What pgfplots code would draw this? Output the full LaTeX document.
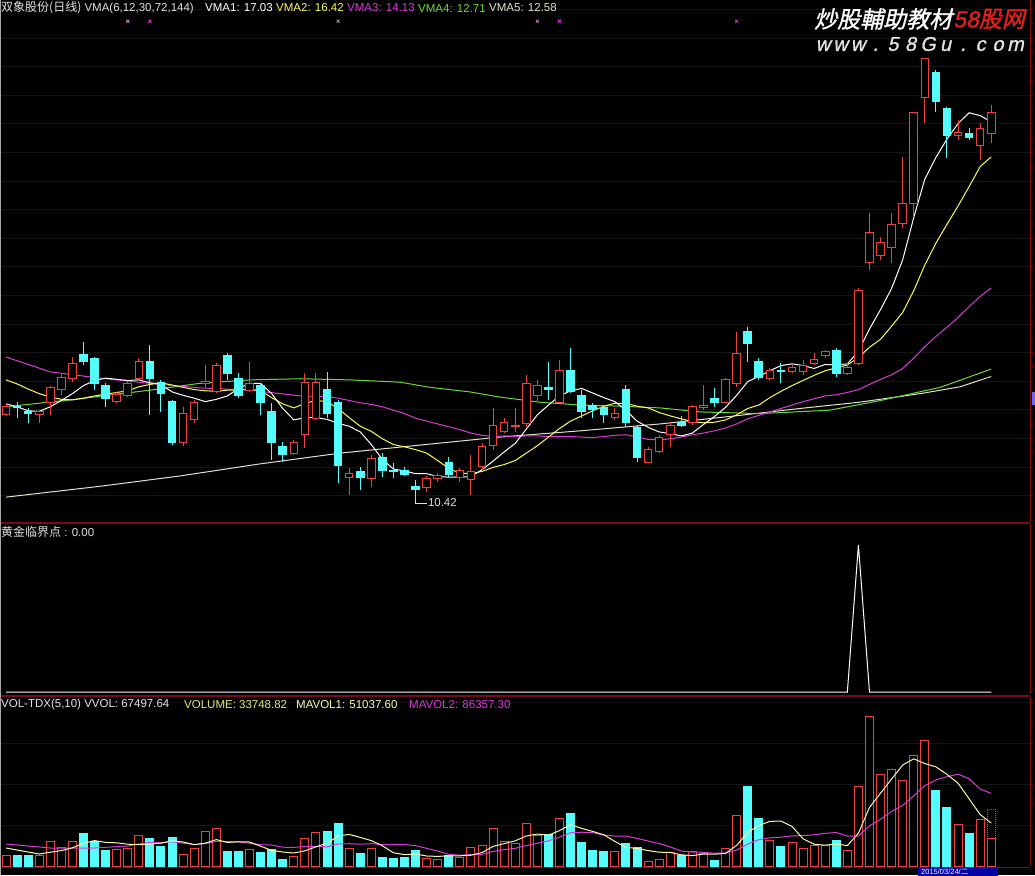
\documentclass[border=0pt]{standalone}
\usepackage{fontspec}
\usepackage{pgfplots}
\usepackage{pgfplotstable}
\pgfplotsset{compat=1.18}
\setmainfont{Liberation Sans}
\newfontfamily\cjk{Noto Sans CJK SC}
\newfontfamily\wmcjk[FakeSlant=0.22,FakeBold=1.2]{Noto Sans CJK SC}
\newfontfamily\wmlat[FakeSlant=0.22,FakeBold=1.2]{Liberation Sans}

\definecolor{upred}{RGB}{235,65,65}
\definecolor{dncyan}{RGB}{84,252,252}
\definecolor{maA}{RGB}{255,255,255}
\definecolor{maB}{RGB}{250,250,90}
\definecolor{maC}{RGB}{215,60,215}
\definecolor{maD}{RGB}{110,215,60}
\definecolor{maE}{RGB}{225,225,205}
\definecolor{axred}{RGB}{130,10,10}
\definecolor{sepred}{RGB}{120,10,30}
\definecolor{gridc}{RGB}{20,20,20}
\definecolor{vmaA}{RGB}{250,250,175}
\definecolor{lbl}{RGB}{225,225,225}
\definecolor{sigA}{RGB}{200,140,200}
\definecolor{volyel}{RGB}{225,230,120}
\definecolor{wmred}{RGB}{230,30,30}

\newcommand\tf{\fontsize{11.5}{14}\selectfont}

\pgfdeclareplotmark{candle}{%
  \pgfpathmoveto{\pgfqpoint{0pt}{0pt}}%
  \pgfpathlineto{\pgfpoint{0pt}{\candleH pt}}%
  \pgfusepathqstroke
  \pgfpathrectanglecorners{\pgfpoint{-3.8pt}{\candleB pt}}{\pgfpoint{3.8pt}{\candleT pt}}%
  \pgfusepathqfillstroke
}

% up (hollow red) candles
\pgfplotstableread{
i O H L C
0 11.91 12.12 11.89 12.05
3 11.92 11.99 11.76 11.96
4 12.12 12.41 11.91 12.39
5 12.36 12.64 12.25 12.57
6 12.55 12.92 12.48 12.80
10 12.15 12.31 12.12 12.27
11 12.25 12.50 12.22 12.46
12 12.55 12.90 12.52 12.85
16 11.43 12.05 11.36 11.94
17 11.82 12.17 11.76 12.13
18 12.45 12.78 12.38 12.50
19 12.31 12.81 12.29 12.78
22 12.34 12.83 12.31 12.46
26 11.24 11.47 11.21 11.43
27 11.56 12.64 11.33 12.48
28 11.85 12.64 11.82 12.48
31 10.82 10.98 10.51 10.89
33 10.80 11.21 10.65 11.15
38 10.63 10.84 10.56 10.80
39 10.80 10.89 10.73 10.84
41 10.82 10.98 10.73 10.93
42 10.77 11.21 10.51 10.91
43 11.00 11.41 10.94 11.35
44 11.38 12.03 11.29 11.73
45 11.61 11.85 11.59 11.78
46 11.70 12.03 11.61 11.73
47 11.76 12.60 11.70 12.46
48 12.25 12.52 12.13 12.43
50 12.13 12.87 12.12 12.69
55 11.87 12.03 11.82 11.94
58 11.08 11.35 11.07 11.31
59 11.26 11.56 11.24 11.52
60 11.56 11.78 11.35 11.73
62 11.77 12.08 11.73 12.06
63 12.03 12.43 11.99 12.08
65 12.13 12.55 12.12 12.52
66 12.46 13.36 12.39 12.99
69 12.55 12.73 12.52 12.69
71 12.66 12.78 12.64 12.73
72 12.66 12.87 12.60 12.78
73 12.81 12.99 12.78 12.88
74 12.95 13.04 12.90 13.01
76 12.64 12.81 12.60 12.74
77 12.81 14.12 12.78 14.09
78 14.58 15.44 14.44 15.09
79 14.70 15.02 14.61 14.93
80 14.84 15.44 14.56 15.23
81 15.26 16.42 15.17 15.61
82 15.61 17.20 15.37 17.20
83 17.45 18.15 17.01 18.13
86 16.80 17.06 16.71 16.85
88 16.61 17.01 16.36 16.91
89 16.83 17.32 16.66 17.20
}\upK

% down (cyan) candles
\pgfplotstableread{
i O H L C
1 12.06 12.13 11.85 12.03
2 11.97 12.03 11.76 11.94
7 12.97 13.18 12.78 12.85
8 12.90 12.92 12.34 12.46
9 12.43 12.46 12.05 12.20
13 12.85 13.13 11.91 12.55
14 12.48 12.52 11.96 12.29
15 12.15 12.17 11.38 11.43
20 12.95 12.99 12.52 12.64
21 12.55 12.64 12.20 12.25
23 12.43 12.46 11.91 12.12
24 11.96 12.12 11.12 11.43
25 11.36 11.43 11.08 11.21
29 12.36 12.66 11.85 11.94
30 12.13 12.17 10.72 11.03
32 10.91 11.00 10.59 10.82
34 11.17 11.24 10.82 10.94
35 10.94 11.07 10.80 10.91
36 10.93 11.00 10.84 10.87
37 10.65 10.77 10.42 10.61
40 11.08 11.17 10.82 10.86
49 12.39 12.83 12.17 12.36
51 12.69 13.08 12.29 12.31
52 12.25 12.34 11.85 11.96
53 12.08 12.12 11.85 12.01
54 12.03 12.03 11.76 11.91
56 12.36 12.43 11.70 11.78
57 11.68 11.73 11.08 11.17
61 11.77 11.89 11.70 11.73
64 12.19 12.38 12.05 12.13
67 13.36 13.44 12.83 13.16
68 12.85 12.90 12.52 12.57
70 12.69 12.81 12.46 12.66
75 13.04 13.08 12.57 12.64
84 17.90 17.94 17.20 17.38
85 17.27 17.29 16.40 16.80
87 16.83 16.92 16.71 16.76
}\dnK

% VMA1 (6) and VMA2 (12)
\pgfplotstableread{
i a b
0 12.10 12.52
1 12.05 12.45
2 11.98 12.36
3 11.97 12.28
4 12.05 12.22
5 12.16 12.18
6 12.28 12.17
7 12.42 12.20
8 12.51 12.24
9 12.55 12.27
10 12.53 12.30
11 12.51 12.33
12 12.52 12.40
13 12.47 12.44
14 12.44 12.47
15 12.31 12.43
16 12.25 12.39
17 12.20 12.35
18 12.14 12.33
19 12.18 12.32
20 12.24 12.34
21 12.37 12.34
22 12.46 12.36
23 12.46 12.33
24 12.28 12.21
25 12.02 12.10
26 11.82 12.03
27 11.86 12.11
28 11.86 12.16
29 11.83 12.14
30 11.76 12.02
31 11.71 11.86
32 11.61 11.71
33 11.39 11.62
34 11.13 11.49
35 10.96 11.39
36 10.93 11.35
37 10.88 11.30
38 10.88 11.24
39 10.83 11.11
40 10.82 10.97
41 10.82 10.89
42 10.83 10.88
43 10.95 10.92
44 11.10 10.99
45 11.26 11.04
46 11.41 11.11
47 11.66 11.24
48 11.91 11.37
49 12.08 11.52
50 12.24 11.67
51 12.33 11.80
52 12.37 11.89
53 12.29 11.98
54 12.21 12.06
55 12.14 12.11
56 11.99 12.11
57 11.80 12.06
58 11.69 12.03
59 11.61 11.95
60 11.58 11.89
61 11.54 11.84
62 11.59 11.79
63 11.74 11.77
64 11.88 11.78
65 12.04 11.82
66 12.25 11.91
67 12.49 12.02
68 12.58 12.08
69 12.68 12.21
70 12.77 12.32
71 12.80 12.42
72 12.77 12.51
73 12.72 12.60
74 12.79 12.68
75 12.78 12.73
76 12.80 12.78
77 13.02 12.91
78 13.41 13.09
79 13.75 13.23
80 14.12 13.46
81 14.62 13.70
82 15.36 14.08
83 16.03 14.53
84 16.41 14.91
85 16.73 15.24
86 17.00 15.56
87 17.19 15.90
88 17.14 16.25
89 17.03 16.42
}\maK

% volume (up = hollow red)
\pgfplotstableread{
i v
0 11
3 11
4 25
5 19
6 25
10 17
11 18
12 31
16 12
17 18
18 35
19 38
22 17
26 10
27 28
28 34
31 18
33 18
38 8
39 7
41 9
42 19
43 21
44 38
45 25
46 23
47 43
48 31
50 48
55 15
58 5
59 7
60 14
62 15
63 13
65 18
66 51
69 26
71 24
72 18
73 21
74 21
76 16
77 80
78 150
79 92
80 97
81 86
82 111
83 126
86 42
88 47
89 28
}\vUp

% volume (down = cyan)
\pgfplotstableread{
i v
1 11
2 11
7 33
8 25
9 16
13 28
14 20
15 29
20 15
21 15
23 14
24 17
25 7
29 35
30 43
32 13
34 9
35 8
36 9
37 16
40 11
49 32
51 53
52 24
53 16
54 15
56 23
57 19
61 11
64 6
67 80
68 48
70 20
75 26
84 76
85 59
87 33
}\vDn

% MAVOL1 (5) and MAVOL2 (10)
\pgfplotstableread{
i a b
0 18 22
1 16 21
2 14 20
3 12 19
4 13.8 18
5 15.4 18
6 18.2 18
7 22.6 18
8 25.4 18
9 23.6 18.7
10 23.2 19.3
11 21.8 20
12 21.4 22
13 22 23.7
14 22.8 23.2
15 25.2 24.2
16 24 22.9
17 21.4 21.4
18 22.8 22.4
19 26.4 24.6
20 23.6 24.4
21 24.2 24.1
22 24 22.7
23 19.8 21.3
24 15.6 21
25 14 18.8
26 13 18.6
27 15.2 19.6
28 19.2 19.5
29 22.8 19.2
30 30 22
31 31.6 22.3
32 28.6 21.9
33 25.4 22.3
34 20.2 21.5
35 13.2 21.6
36 11.4 21.5
37 12 20.3
38 10 17.7
39 9.6 14.9
40 10.2 11.7
41 10.2 10.8
42 10.8 11.4
43 13.4 11.7
44 19.6 14.6
45 22.4 16.3
46 25.2 17.7
47 30 20.4
48 32 22.7
49 30.8 25.2
50 35.4 28.9
51 41.4 33.3
52 37.6 33.8
53 34.6 33.3
54 31.2 31
55 24.6 30
56 18.6 30
57 17.6 27.6
58 15.4 25
59 13.8 22.5
60 13.6 19.1
61 11.2 14.9
62 10.4 14
63 12 13.7
64 11.8 12.8
65 12.6 13.1
66 20.6 15.9
67 33.6 22
68 40.6 26.3
69 44.6 28.2
70 45 28.8
71 39.6 30.1
72 27.2 30.4
73 21.8 31.2
74 20.8 32.7
75 22 33.5
76 20.4 30
77 32.8 30
78 58.6 40.2
79 72.8 46.8
80 87 54.5
81 101 60.7
82 107.2 70
83 102.4 80.5
84 99.2 86
85 91.6 89.3
86 82.8 91.9
87 67.2 87.2
88 51.4 76.9
89 42.9 72.6
}\vmaK

\pgfplotsset{
  tdx/.style={scale only axis, width=1030pt, xmin=-0.542, xmax=92.5,
    anchor=south west,
    axis x line=none, axis y line*=right,
    y axis line style={draw=axred, line width=0.8pt},
    yticklabels={}, tick align=outside,
    major tick length=3pt, minor tick length=3pt,
    tick style={draw=axred, line width=0.6pt},
    major grid style={draw=gridc, line width=0.6pt},
  },
}

\begin{document}
\begin{tikzpicture}[x=1pt,y=1pt]
\useasboundingbox (0,0) rectangle (1035,-875);
\fill[black] (0,0) rectangle (1035,-875);
\clip (0,0) rectangle (1035,-875);

% ---------------- price panel ----------------
\begin{axis}[tdx, at={(0pt,-522pt)}, height=522pt,
  ymin=10.0354, ymax=19.1615,
  ytick={10.5,11,...,19}, minor y tick num=1, ymajorgrids]
  % moving averages
  \addplot[maE, line width=1pt] coordinates {(0,10.47) (8.5,10.66) (15.7,10.84) (22.9,11.05) (30.2,11.24) (37.4,11.38) (44.6,11.52) (51.9,11.63) (59.1,11.75) (66.3,11.90) (71.7,12.02) (77.1,12.13) (82.6,12.28) (86.2,12.40) (89,12.58)};
  \addplot[maD, line width=1pt] coordinates {(0,12.05) (5.8,12.17) (13,12.34) (17.5,12.46) (22,12.52) (26.6,12.54) (31.1,12.52) (35.6,12.48) (38.3,12.39) (41.9,12.31) (44.6,12.22) (48.2,12.13) (51.9,12.08) (55.5,12.06) (59.1,12.03) (62.7,11.96) (68.1,11.93) (74.4,11.99) (79,12.16) (84.4,12.39) (89,12.71)};
  \addplot[maC, line width=1pt] coordinates {(0,12.92) (4,12.66) (8.5,12.55) (13,12.46) (17.5,12.38) (22,12.34) (26.6,12.24) (29,12.23) (30,12.20) (31,12.16) (32,12.12) (33,12.09) (34,12.05) (35,11.99) (36,11.93) (37,11.85) (38,11.80) (39,11.75) (40,11.70) (41,11.65) (42,11.59) (43,11.55) (44,11.53) (45,11.54) (46,11.53) (47,11.54) (48,11.54) (49,11.53) (50,11.53) (51,11.53) (52,11.52) (53,11.51) (54,11.53) (55,11.55) (56,11.56) (57,11.52) (58,11.48) (59,11.47) (60,11.49) (61,11.52) (62,11.56) (63,11.59) (64,11.63) (65,11.68) (66,11.75) (67,11.84) (68,11.90) (69,11.96) (70,12.02) (71,12.08) (72,12.14) (73,12.19) (74,12.24) (75,12.26) (76,12.30) (77,12.35) (78,12.44) (79,12.53) (80,12.61) (81,12.72) (82,12.90) (83,13.10) (84,13.28) (85,13.44) (86,13.61) (87,13.80) (88,13.98) (89,14.13)};
  \addplot[maB, line width=1pt] table[x=i, y=b] {\maK};
  \addplot[maA, line width=1pt] table[x=i, y=a] {\maK};
  % candles
  \addplot[only marks, mark=candle, line width=1pt,
    mark options={draw=upred, fill=black},
    visualization depends on={(\thisrow{H}-\thisrow{L})*57.2 \as \candleH},
    visualization depends on={(\thisrow{O}-\thisrow{L})*57.2 \as \candleB},
    visualization depends on={(\thisrow{C}-\thisrow{L})*57.2 \as \candleT}]
    table[x=i, y=L] {\upK};
  \addplot[only marks, mark=candle, line width=1pt,
    mark options={draw=dncyan, fill=dncyan},
    visualization depends on={(\thisrow{H}-\thisrow{L})*57.2 \as \candleH},
    visualization depends on={(\thisrow{C}-\thisrow{L})*57.2 \as \candleB},
    visualization depends on={(\thisrow{O}-\thisrow{L})*57.2 \as \candleT}]
    table[x=i, y=L] {\dnK};
  % signal marks on top row
  \addplot[only marks, mark=x, mark size=2.2pt, line width=0.8pt, sigA] coordinates {(11,18.79) (30,18.79) (48,18.79)};
  \addplot[only marks, mark=x, mark size=2.2pt, line width=0.8pt, maC] coordinates {(13,18.79) (50,18.79) (66,18.79)};
  % low annotation
  \draw[lbl, line width=0.8pt] (axis cs:37,10.42) -- ++(0pt,-3pt) -- ++(11pt,0pt)
     node[anchor=west, inner sep=1pt, text=lbl, font=\tf] {10.42};
\end{axis}

% ---------------- indicator panel ----------------
\begin{axis}[tdx, at={(0pt,-694pt)}, height=170pt,
  ymin=-0.0136, ymax=1.1429, ytick=\empty]
  \addplot[white, line width=1pt] coordinates {(0,0) (76,0) (77,1) (78,0) (89,0)};
\end{axis}

% ---------------- volume panel ----------------
\begin{axis}[tdx, at={(0pt,-866pt)}, height=169pt,
  ymin=0, ymax=169,
  ytick={41,82,123,164}, minor y tick num=1, ymajorgrids]
  \addplot[ybar, bar width=8pt, bar shift=0pt, draw=upred, densely dotted, fill=none, line width=1pt] coordinates {(89,57)};
  \addplot[ybar, bar width=8pt, bar shift=0pt, draw=upred, fill=black, line width=1pt] table[x=i, y=v] {\vUp};
  \addplot[ybar, bar width=8pt, bar shift=0pt, draw=dncyan, fill=dncyan, line width=1pt] table[x=i, y=v] {\vDn};
  \addplot[maC, line width=1pt] table[x=i, y=b] {\vmaK};
  \addplot[vmaA, line width=1pt] table[x=i, y=a] {\vmaK};
\end{axis}

% separators and borders
\draw[sepred, line width=1.2pt] (0,-523) -- (1030,-523);
\draw[sepred, line width=1.2pt] (0,-696) -- (1030,-696);
\draw[sepred, line width=1pt] (0,-867) -- (1030,-867);
\draw[gray!70, line width=1pt] (0.5,0) -- (0.5,-875);
\fill[blue!60!white] (1031.5,-392) rectangle (1035,-405);

% headers
\begin{scope}[every node/.style={inner sep=0pt, anchor=west, font=\tf}]
\node[text=lbl] at (1,-8) {{\cjk\fontsize{12}{14}\selectfont 双象股份(日线)} VMA(6,12,30,72,144)};
\node[text=maA] at (205,-8) {VMA1: 17.03};
\node[text=maB] at (276,-8) {VMA2: 16.42};
\node[text=maC] at (347,-8) {VMA3: 14.13};
\node[text=maD] at (418,-8) {VMA4: 12.71};
\node[text=maE] at (489,-8) {VMA5: 12.58};
\node[text=lbl] at (1,-532) {{\cjk\fontsize{12}{14}\selectfont 黄金临界点} : 0.00};
\node[text=lbl] at (1,-705) {VOL-TDX(5,10) VVOL: 67497.64};
\node[text=volyel] at (184,-705) {VOLUME: 33748.82};
\node[text=vmaA] at (296,-705) {MAVOL1: 51037.60};
\node[text=maC] at (409,-705) {MAVOL2: 86357.30};
\end{scope}

% watermark
\node[anchor=west, inner sep=0pt, text=white, font={\fontsize{23}{25}\selectfont\wmcjk}] at (814,-19) {炒股輔助教材};
\node[anchor=west, inner sep=0pt, text=wmred, font={\fontsize{23}{25}\selectfont}] at (953,-19) {{\wmlat 58}{\wmcjk 股网}};
\node[anchor=west, inner sep=0pt, text=lbl, font={\fontsize{20}{22}\selectfont\wmlat}] at (814,-44)
  {\makebox[17.5pt]{w}\makebox[17.5pt]{w}\makebox[17.5pt]{w}\makebox[17.5pt]{.}\makebox[17.5pt]{5}\makebox[17.5pt]{8}\makebox[17.5pt]{G}\makebox[17.5pt]{u}\makebox[17.5pt]{.}\makebox[17.5pt]{c}\makebox[17.5pt]{o}\makebox[17.5pt]{m}};

% date strip
\fill[blue!65!black] (918,-867.5) rectangle (998,-876);
\node[anchor=west, inner sep=0pt, text=white, font={\fontsize{7.5}{8}\selectfont}] at (921,-871.5) {2015/03/24/{\cjk 二}};
\end{tikzpicture}
\end{document}
